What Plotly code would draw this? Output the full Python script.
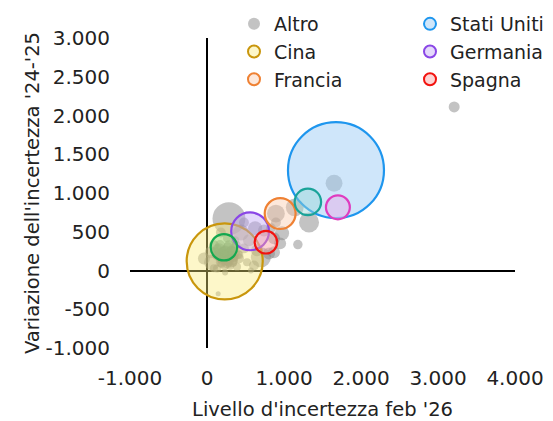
import plotly.graph_objects as go

# ---------------- data ----------------
x_ticks = [-1000, 0, 1000, 2000, 3000, 4000]
x_ticktext = ["-1.000", "0", "1.000", "2.000", "3.000", "4.000"]
y_ticks = [-1000, -500, 0, 500, 1000, 1500, 2000, 2500, 3000]
y_ticktext = ["-1.000", "-500", "0", "500", "1.000", "1.500", "2.000", "2.500", "3.000"]

# "Altro" countries: level (x), change (y), size
altro_x = [3210, 1650, 1140, 1325, 1180, 895, 895, 975, 950, 870,
           285, 440, 545, 805, 700, 610, 145, 65, -40, 155,
           220, 285, 350, 180, 310, 415, 90, 50, 260, 480,
           130, 390, 520, 650, 740, 625, 480, 180, 235, 570,
           365, 830, 870, 200, 260, 330, 120, 240, 300, 170,
           400, 90, 350, 280, 210, 250, 310, 150, 190, 270,
           330, 230, 110, 380, 160, 200, 240, 280, 320, 360,
           180, 220, 260, 300, 340, 140, 200, 260, 320, 420]
altro_y = [2110, 1125, 815, 620, 335, 735, 620, 480, 350, 415,
           670, 490, 390, 220, 170, 65, -300, 105, 155, 260,
           195, 325, 235, 105, 130, 155, 325, 235, 415, 285,
           25, 50, 105, 260, 515, 545, 620, 490, -25, 0,
           390, 545, 235, 150, 90, 180, 200, 240, 60, 330,
           210, 30, 280, 120, 230, 170, 260, 180, 90, 300,
           140, 60, 250, 330, 220, 120, 190, 150, 220, 170,
           160, 250, 120, 190, 100, 280, 200, 210, 260, 200]
altro_s = [0.38, 0.9, 1.0, 1.26, 0.28, 1.0, 0.31, 0.62, 0.45, 0.45,
           3.4, 0.8, 0.45, 0.45, 1.26, 0.31, 0.08, 0.8, 0.45, 0.62,
           0.45, 0.31, 0.45, 0.31, 0.62, 0.31, 0.31, 0.45, 0.2, 0.31,
           0.2, 0.2, 0.2, 0.45, 0.45, 0.62, 0.31, 0.31, 0.11, 0.11,
           0.2, 0.31, 0.45, 0.35, 0.3, 0.4, 0.25, 0.5, 0.2, 0.3,
           0.25, 0.2, 0.3, 0.35, 0.4, 0.3, 0.25, 0.3, 0.25, 0.3,
           0.35, 0.25, 0.2, 0.25, 0.3, 0.25, 0.35, 0.3, 0.25, 0.2,
           0.3, 0.35, 0.25, 0.3, 0.2, 0.25, 0.45, 0.3, 0.25, 0.2]

countries = ["Cina", "Stati Uniti", "Germania", "Francia", "Spagna", "Paese V", "Paese T", "Paese M"]
country_x = [230, 1675, 560, 950, 765, 220, 1310, 1700]
country_y = [118, 1295, 505, 735, 365, 300, 885, 815]
country_s = [18.2, 29.0, 4.5, 3.0, 1.6, 2.2, 2.2, 1.8]
country_legend = ["legend", "legend2", "legend2", "legend", "legend2", None, None, None]

# ---------------- styles ----------------
line_cols = {"Cina": "#c9960c", "Stati Uniti": "#1e96ee", "Germania": "#8a46e6",
             "Francia": "#ef8133", "Spagna": "#f2130f", "Paese V": "#13a84f",
             "Paese T": "#1aa399", "Paese M": "#df3cbf"}
fill_cols = {"Cina": "rgba(250,234,120,0.4)", "Stati Uniti": "rgba(160,206,246,0.5)",
             "Germania": "rgba(190,165,245,0.42)", "Francia": "rgba(250,200,170,0.42)",
             "Spagna": "rgba(250,160,160,0.45)", "Paese V": "rgba(110,200,120,0.35)",
             "Paese T": "rgba(150,215,215,0.45)", "Paese M": "rgba(225,185,235,0.6)"}

SIZEREF = 2 * 29.0 / 96 ** 2
FONT = "DejaVu Sans"

fig = go.Figure()

fig.add_trace(go.Scatter(
    x=altro_x, y=altro_y, mode="markers", name="Altro", legend="legend",
    marker=dict(size=altro_s, sizemode="area", sizeref=SIZEREF, opacity=1,
                color="rgba(130,130,130,0.48)", line=dict(width=0)),
))

order = ["Cina", "Stati Uniti", "Germania", "Francia", "Spagna", "Paese V", "Paese T", "Paese M"]
for name in order:
    i = countries.index(name)
    lg = country_legend[i]
    fig.add_trace(go.Scatter(
        x=[country_x[i]], y=[country_y[i]], mode="markers", name=name,
        legend=lg if lg else "legend", showlegend=lg is not None,
        marker=dict(size=[country_s[i]], sizemode="area", sizeref=SIZEREF, opacity=1,
                    color=fill_cols[name], line=dict(width=2.2, color=line_cols[name])),
    ))

fig.update_layout(
    width=545, height=413,
    margin=dict(l=122, r=38, t=30, b=73, autoexpand=False),
    paper_bgcolor="white", plot_bgcolor="white",
    font=dict(family=FONT, size=19, color="#222222"),
    showlegend=True,
    legend=dict(x=(234 - 130) / 385, y=1 + 33 / 310,
                xanchor="left", yanchor="top", itemsizing="constant",
                bgcolor="rgba(0,0,0,0)", font=dict(size=19), tracegroupgap=0),
    legend2=dict(x=(410 - 130) / 385, y=1 + 33 / 310,
                 xanchor="left", yanchor="top", itemsizing="constant",
                 bgcolor="rgba(0,0,0,0)", font=dict(size=19), tracegroupgap=0),
    xaxis=dict(range=[-1000, 4000], tickvals=x_ticks, ticktext=x_ticktext,
               showgrid=False, zeroline=True, zerolinecolor="black", zerolinewidth=2,
               showline=False, ticks="", ticklabelstandoff=16, automargin=False,
               tickfont=dict(size=20),
               title=dict(text="Livello d'incertezza feb '26", standoff=13, font=dict(size=19.5))),
    yaxis=dict(range=[-1000, 3000], tickvals=y_ticks, ticktext=y_ticktext,
               showgrid=False, zeroline=True, zerolinecolor="black", zerolinewidth=2,
               showline=False, ticks="", ticklabelstandoff=19, automargin=False,
               tickfont=dict(size=20),
               title=dict(text="Variazione dell'incertezza '24-'25", standoff=0, font=dict(size=19.5))),
)

fig.write_html("out.html")
